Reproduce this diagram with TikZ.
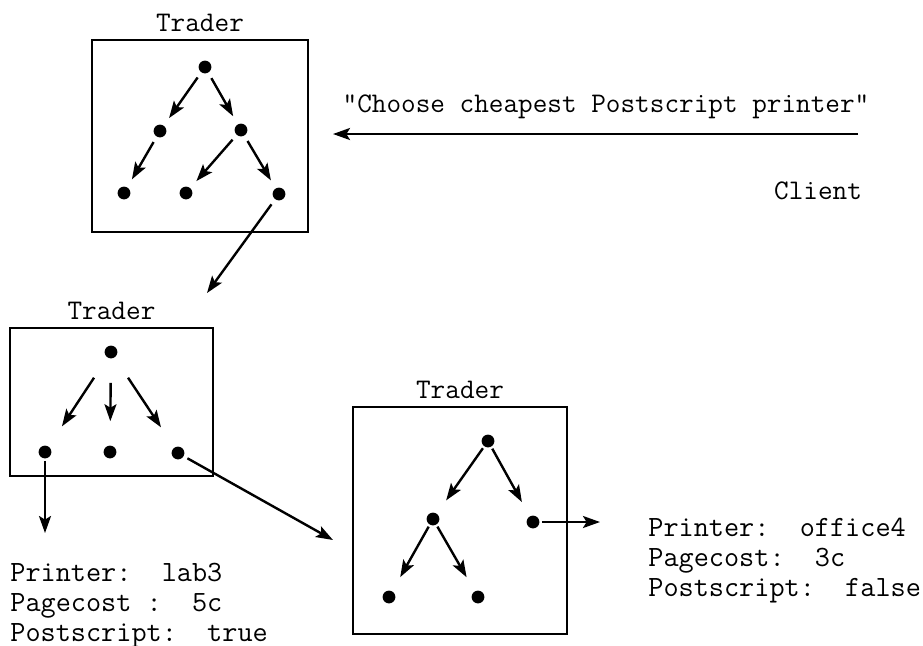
\documentclass[tikz,border=0pt]{standalone}
\usepackage{fontspec}
\usetikzlibrary{arrows.meta}
\tikzstyle{tt} = [font=\fontsize{14.2}{14.6}\selectfont\ttfamily]
\tikzstyle{dot} = [circle, fill=black, inner sep=0pt, minimum size=6.4pt]
\tikzstyle{box} = [draw=black, line width=1.2pt, rectangle, inner sep=0pt]
\tikzstyle{arr} = [-{Stealth[length=8.5pt,width=6pt,inset=1.8pt]}, line width=1.2pt]
\tikzstyle{info} = [font=\fontsize{14.7}{14.9}\selectfont\ttfamily,
  align=left, anchor=north west, inner sep=0pt]

\begin{document}
\begin{tikzpicture}[x=0.5pt, y=-0.5pt]
\useasboundingbox (0,0) rectangle (923,645);

% the three traders
\node[box, minimum width=108pt, minimum height=96pt,
  label={[tt]above:Trader}] (t1) at (200,136) {};
\node[box, minimum width=101.5pt, minimum height=74pt,
  label={[tt]above:Trader}] (t2) at (111.5,402) {};
\node[box, minimum width=107pt, minimum height=113.5pt,
  label={[tt]above:Trader}] (t3) at (460,520.5) {};

\node[dot] (1) at (205,67) {};
\node[dot] (1-1) at (160,131) {};
\node[dot] (1-2) at (241,130) {};
\node[dot] (1-1-1) at (124,193) {};
\node[dot] (1-2-1) at (186,193) {};
\node[dot] (1-2-2) at (279,194) {};
\begin{scope}[shorten <=3pt, shorten >=4.5pt]
\draw[arr] (1) -- (1-1);
\draw[arr] (1) -- (1-2);
\draw[arr] (1-1) -- (1-1-1);
\draw[arr] (1-2) -- (1-2-1);
\draw[arr] (1-2) -- (1-2-2);
\end{scope}

\node[dot] (2) at (111,352) {};
\node[dot] (2-1) at (45,452) {};
\node[dot] (2-2) at (110,452) {};
\node[dot] (2-3) at (178,453) {};
\begin{scope}[shorten <=12pt, shorten >=12pt]
\draw[arr] (2) -- (2-1);
\draw[arr] (2) -- (2-2);
\draw[arr] (2) -- (2-3);
\end{scope}

\node[dot] (3) at (488,441) {};
\node[dot] (3-1) at (433,519) {};
\node[dot] (3-2) at (533,522) {};
\node[dot] (3-1-1) at (389,597) {};
\node[dot] (3-1-2) at (478,597) {};
\begin{scope}[shorten <=1pt, shorten >=8pt]
\draw[arr] (3) -- (3-1);
\draw[arr] (3) -- (3-2);
\draw[arr] (3-1) -- (3-1-1);
\draw[arr] (3-1) -- (3-1-2);
\end{scope}

% request and hand-overs
\node[tt] (query) at (606,107) {"Choose cheapest Postscript printer"};
\node[tt] (client) at (818,191) {Client};
\coordinate (from) at (858,134);
\coordinate (to) at (333,134);
\draw[arr] (from) -- (to);

\coordinate (hop1) at (207,293);
\coordinate (hop2) at (333,540);
\draw[arr, shorten <=3pt] (1-2-2) -- (hop1);
\draw[arr, shorten <=2pt] (2-3) -- (hop2);

% offers
\node[info] (lab3) at (10,563)
  {Printer:~~lab3\\Pagecost~:~~5c\\Postscript:~~true};
\node[info] (office4) at (648,518)
  {Printer:~~office4\\Pagecost:~~3c\\Postscript:~~false};
\coordinate (res1) at (45,533);
\coordinate (res2) at (600,522);
\draw[arr, shorten <=1pt] (2-1) -- (res1);
\draw[arr, shorten <=1pt] (3-2) -- (res2);

\end{tikzpicture}
\end{document}
